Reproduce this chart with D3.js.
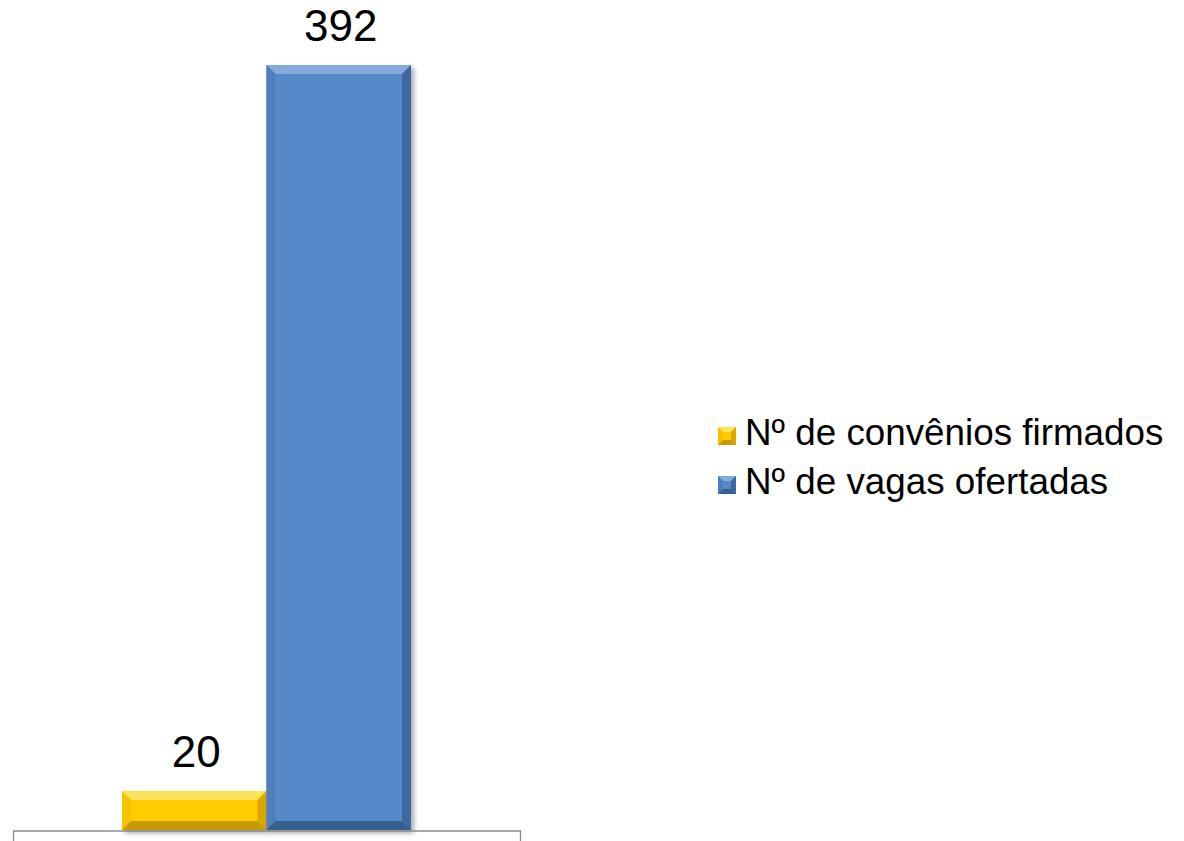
<!DOCTYPE html>
<html>
<head>
<meta charset="utf-8">
<script src="https://cdn.jsdelivr.net/npm/d3@7"></script>
<style>
  html, body { margin: 0; padding: 0; background: #ffffff; }
  svg { display: block; font-family: "Liberation Sans", Arial, sans-serif; }
</style>
</head>
<body>
<svg id="chart" width="1184" height="841"></svg>
<script>
const categories = [""];
const seriesNames = ["Nº de convênios firmados", "Nº de vagas ofertadas"];
const seriesValues = [20, 392];
const seriesColors = [
  { base: "#FFCC00", light: "#FFE35A", mid: "#F5C400", dark: "#D9A800", darker: "#C79A00" },
  { base: "#5789C9", light: "#86AADC", mid: "#4F7EBB", dark: "#3F689E", darker: "#37608F" }
];

const svg = d3.select("#chart");
const baseY = 830;

const defs = svg.append("defs");
const f = defs.append("filter").attr("id", "shadow")
  .attr("x", "-10%").attr("y", "-10%").attr("width", "130%").attr("height", "130%");
f.append("feDropShadow").attr("dx", 3).attr("dy", 3).attr("stdDeviation", 2.5)
  .attr("flood-color", "#000").attr("flood-opacity", 0.35);

const x0 = d3.scaleBand().domain(categories).range([13, 520]).paddingInner(0).paddingOuter(0.377);
const x1 = d3.scaleBand().domain(seriesNames).range([0, x0.bandwidth()]).padding(0);
const y = d3.scaleLinear().domain([0, 392]).range([baseY, 65]);

const data = seriesNames.map((name, i) => ({ name, value: seriesValues[i], color: seriesColors[i] }));

function drawBevelBar(g, x, yTop, w, h, c, bevel) {
  const b = Math.min(bevel, h / 2, w / 2);
  const grp = g.append("g").attr("filter", "url(#shadow)");
  grp.append("rect").attr("x", x).attr("y", yTop).attr("width", w).attr("height", h).attr("fill", c.base);
  grp.append("polygon").attr("points", [[x, yTop], [x + w, yTop], [x + w - b, yTop + b], [x + b, yTop + b]].join(" "))
    .attr("fill", c.light);
  grp.append("polygon").attr("points", [[x, yTop], [x + b, yTop + b], [x + b, yTop + h - b], [x, yTop + h]].join(" "))
    .attr("fill", c.mid);
  grp.append("polygon").attr("points", [[x + w, yTop], [x + w, yTop + h], [x + w - b, yTop + h - b], [x + w - b, yTop + b]].join(" "))
    .attr("fill", c.dark);
  grp.append("polygon").attr("points", [[x, yTop + h], [x + b, yTop + h - b], [x + w - b, yTop + h - b], [x + w, yTop + h]].join(" "))
    .attr("fill", c.darker);
}

const plot = svg.append("g");
categories.forEach(cat => {
  data.forEach(d => {
    const bx = x0(cat) + x1(d.name);
    const by = y(d.value);
    drawBevelBar(plot, bx, by, x1.bandwidth(), baseY - by, d.color, 9);
    plot.append("text")
      .attr("x", bx + x1.bandwidth() / 2 + 2)
      .attr("y", by - 24)
      .attr("text-anchor", "middle")
      .attr("font-size", 44)
      .attr("fill", "#000")
      .text(d.value);
  });
});

// axis
const axis = d3.axisBottom(x0).tickSizeInner(0).tickSizeOuter(11).tickFormat(() => "");
const ag = svg.append("g").attr("transform", `translate(0,${baseY + 0.5})`).call(axis);
ag.select(".domain").attr("stroke", "#8c8c8c").attr("stroke-width", 1.3);

// legend
const legend = svg.append("g").attr("transform", "translate(718,0)");
data.forEach((d, i) => {
  const ly = 445 + i * 49;
  const lg = legend.append("g");
  const s = 18;
  const c = d.color;
  const b = 5;
  const x = 0, yt = ly - s;
  lg.append("rect").attr("x", x).attr("y", yt).attr("width", s).attr("height", s).attr("fill", c.base);
  lg.append("polygon").attr("points", [[x, yt], [x + s, yt], [x + s - b, yt + b], [x + b, yt + b]].join(" ")).attr("fill", c.light);
  lg.append("polygon").attr("points", [[x, yt], [x + b, yt + b], [x + b, yt + s - b], [x, yt + s]].join(" ")).attr("fill", c.mid);
  lg.append("polygon").attr("points", [[x + s, yt], [x + s, yt + s], [x + s - b, yt + s - b], [x + s - b, yt + b]].join(" ")).attr("fill", c.dark);
  lg.append("polygon").attr("points", [[x, yt + s], [x + b, yt + s - b], [x + s - b, yt + s - b], [x + s, yt + s]].join(" ")).attr("fill", c.darker);
  lg.append("text").attr("x", 27).attr("y", ly).attr("font-size", 36.8).attr("fill", "#000").text(d.name);
});
</script>
</body>
</html>
